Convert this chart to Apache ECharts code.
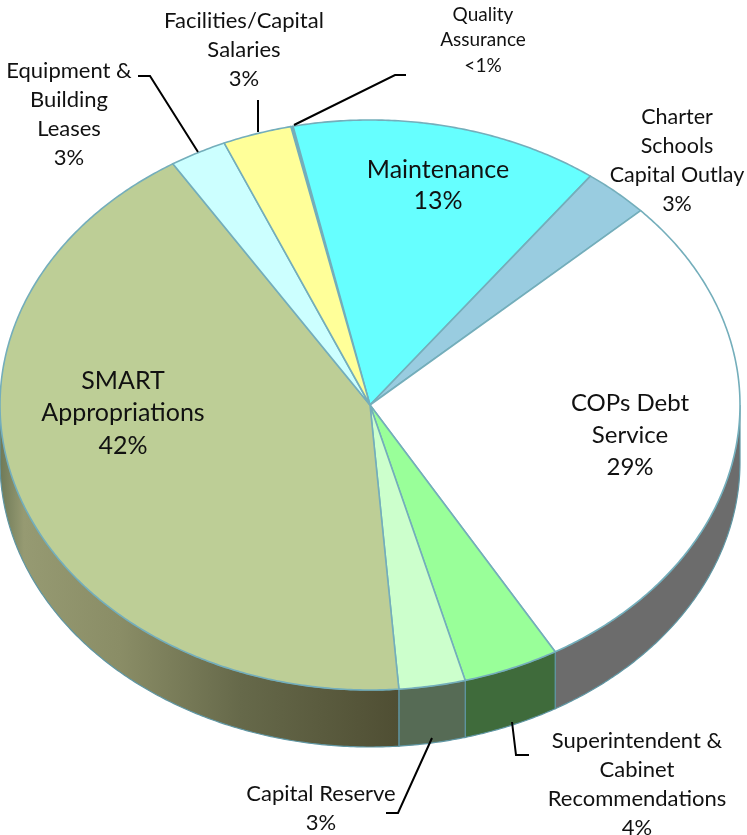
<!DOCTYPE html>
<html>
<head>
<meta charset="utf-8">
<style>html,body{margin:0;padding:0;background:#fff}#chart{width:747px;height:835px}</style>
<script src="https://cdn.jsdelivr.net/npm/echarts@6/dist/echarts.min.js"></script>
</head>
<body>
<div id="chart"></div>
<script>
// Budget shares, listed clockwise from the top of the pie.
const categories = ['Quality\nAssurance', 'Maintenance', 'Charter\nSchools\nCapital Outlay', 'COPs Debt\nService',
  'Superintendent &\nCabinet\nRecommendations', 'Capital Reserve', 'SMART\nAppropriations',
  'Equipment &\nBuilding\nLeases', 'Facilities/Capital\nSalaries'];
const shares = [0.1, 13.49, 2.9, 28.6, 4.2, 2.9, 42.3, 2.5, 3.01];
const topColors = ['#74aebb', '#66ffff', '#99cce0', '#ffffff', '#99ff99', '#ccffcc', '#bdce96', '#ccffff', '#ffff99'];

const START_DEG = -12.36;     // clockwise from twelve o'clock
const DEPTH = 0.2;            // wall height in axis units
const EDGE = '#74aebb';

// Running start/end angle of every slice.
const spans = [];
shares.reduce((acc, v) => { spans.push([acc, acc + v * 3.6]); return acc + v * 3.6; }, START_DEG);

function rimPoint(api, deg, drop) {
  const t = deg * Math.PI / 180;
  return api.coord([Math.sin(t), Math.cos(t) - drop]);
}
function arcPoints(api, a, b, drop) {
  const n = Math.max(2, Math.ceil(Math.abs(b - a) / 0.5));
  const pts = [];
  for (let i = 0; i <= n; i++) pts.push(rimPoint(api, a + (b - a) * i / n, drop));
  return pts;
}

function wallFill(i) {
  const flat = { 3: '#6c6c6c', 4: '#3f6b3b', 5: '#566b55' };
  if (flat[i]) return flat[i];
  return new echarts.graphic.LinearGradient(0, 0, 400, 0, [
    { offset: 0, color: '#6f7a58' },
    { offset: 0.06, color: '#969a72' },
    { offset: 0.3, color: '#8a8d66' },
    { offset: 0.6, color: '#66694a' },
    { offset: 1, color: '#4f4e33' }
  ], true);
}

function renderWall(params, api) {
  const [s, e] = spans[params.dataIndex];
  const a = Math.max(s, 90), b = Math.min(e, 270);
  if (a >= b) return { type: 'group', children: [] };
  const pts = arcPoints(api, a, b, 0).concat(arcPoints(api, b, a, DEPTH));
  return { type: 'polygon', shape: { points: pts },
    style: { fill: wallFill(params.dataIndex), stroke: '#5f96a3', lineWidth: 1.2 } };
}

function renderTop(params, api) {
  const [s, e] = spans[params.dataIndex];
  const pts = [api.coord([0, 0])].concat(arcPoints(api, s, e, 0));
  return { type: 'polygon', shape: { points: pts },
    style: { fill: topColors[params.dataIndex], stroke: EDGE, lineWidth: 1.6, lineJoin: 'round' } };
}

function shareText(v) { return v < 1 ? '<1%' : Math.round(v) + '%'; }

// Label block centres and type sizes for each category.
const labelPlace = [
  { x: 483, y: 40, size: 19, lh: 25.5 },
  { x: 438, y: 185, size: 25, lh: 31 },
  { x: 677, y: 161, size: 21.5, lh: 29 },
  { x: 630, y: 435, size: 24, lh: 32 },
  { x: 637, y: 784, size: 22, lh: 29 },
  { x: 321, y: 808, size: 22, lh: 29 },
  { x: 123, y: 413, size: 25, lh: 32.5 },
  { x: 69, y: 114, size: 22, lh: 29 },
  { x: 244, y: 50, size: 22, lh: 29 }
];
const leaderPaths = [
  [[294, 125], [395, 75], [406, 75]],
  [[138, 76], [150, 76], [198, 152]],
  [[258, 100], [258, 132]],
  [[386, 813], [398, 813], [432, 738]],
  [[512, 722], [516, 755], [529, 755]]
];

const textEls = categories.map((name, i) => ({
  type: 'text', x: labelPlace[i].x, y: labelPlace[i].y, z: 20,
  style: { text: name + '\n' + shareText(shares[i]), fill: '#111', align: 'center', verticalAlign: 'middle',
    font: labelPlace[i].size + 'px Lato', fontFamily: 'Lato', fontSize: labelPlace[i].size, lineHeight: labelPlace[i].lh }
}));
const leaderEls = leaderPaths.map(points => ({
  type: 'polyline', shape: { points }, z: 19,
  style: { stroke: '#000', lineWidth: 2, fill: null }
}));

const chart = echarts.init(document.getElementById('chart'), null, { renderer: 'canvas' });
chart.setOption({
  animation: false,
  backgroundColor: '#ffffff',
  grid: { left: 0, top: 120, width: 740, height: 570 },
  xAxis: { type: 'value', min: -1, max: 1, show: false },
  yAxis: { type: 'value', min: -1, max: 1, show: false },
  series: [
    { type: 'custom', clip: false, z: 2, renderItem: renderWall, data: shares.map((v, i) => [i, v]) },
    { type: 'custom', clip: false, z: 3, renderItem: renderTop, data: shares.map((v, i) => [i, v]) }
  ],
  graphic: textEls.concat(leaderEls)
});
</script>
</body>
</html>
